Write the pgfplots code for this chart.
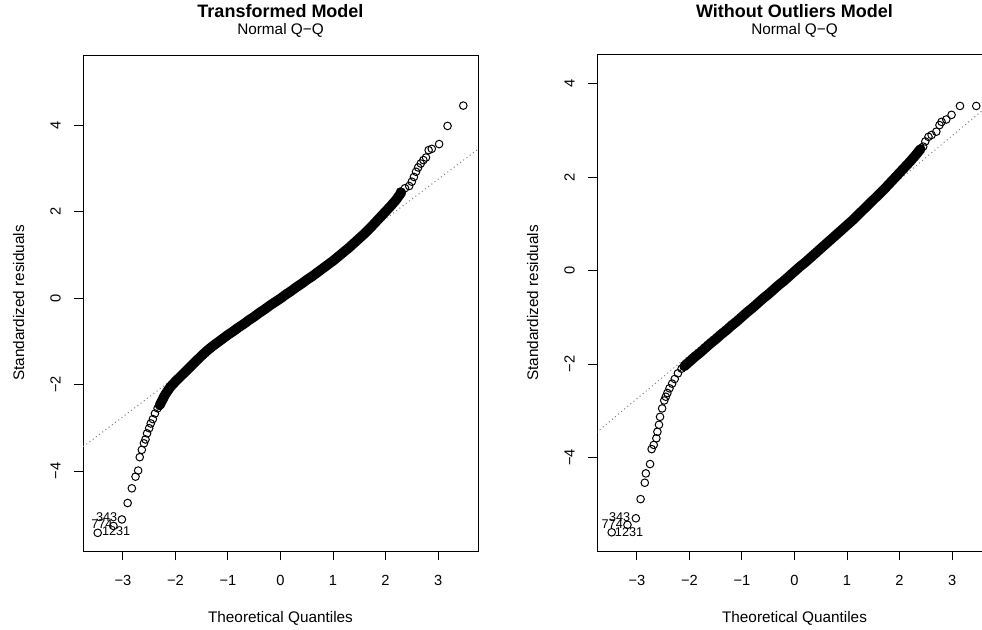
\documentclass[border=0pt]{standalone}
\usepackage{fontspec}
\setmainfont{Liberation Sans}
\usepackage{pgfplots}
\pgfplotsset{compat=1.18}

\newcommand\basefont{\fontsize{11.5pt}{13pt}\selectfont}
\newcommand\tickfont{\fontsize{11pt}{13pt}\selectfont}
\newcommand\titlefont{\fontsize{13.5pt}{16pt}\selectfont\bfseries}
\newcommand\idfont{\fontsize{9.5pt}{10pt}\selectfont}

\pgfplotsset{
  qqaxis/.style={
    scale only axis, anchor=south west,
    width=296.25pt, height=372pt,
    xmin=-3.76, xmax=3.76,
    axis line style={line width=0.75pt, black},
    tick align=outside, major tick length=7pt,
    tick style={line width=0.75pt, black},
    xtick={-3,-2,-1,0,1,2,3},
    xticklabels={−3,−2,−1,0,1,2,3},
    ytick={-4,-2,0,2,4},
    yticklabels={−4,−2,0,2,4},
    xtick pos=left, ytick pos=left,
    ticklabel style={font=\tickfont},
    xticklabel style={anchor=base, yshift=-18.5pt},
    yticklabel style={rotate=90, anchor=south, inner ysep=9.5pt},
    clip=true,
  },
  band/.style={black, line width=7.4pt, line cap=round, line join=round, no marks},
  pts/.style={only marks, mark=o, mark size=2.85pt, mark options={line width=0.75pt, black}},
  refline/.style={black!50, line width=0.75pt, dash pattern=on 0.75pt off 2.25pt, no marks},
}

\begin{document}
\begin{tikzpicture}[x=0.75pt, y=-0.75pt]

% ---------------- Transformed model ----------------
\begin{axis}[qqaxis, at={(62.25pt,-413.25pt)}, ymin=-5.85, ymax=5.62]
  \addplot[refline] coordinates {(-4,-3.66) (4,3.66)};
  % dense central part of the residuals
  \addplot[band] coordinates {
    (-2.30,-2.48) (-2.20,-2.24) (-2.10,-2.06) (-2.00,-1.93) (-1.90,-1.81)
    (-1.80,-1.69) (-1.70,-1.57) (-1.60,-1.45) (-1.50,-1.33) (-1.40,-1.22)
    (-1.30,-1.12) (-1.20,-1.03) (-1.10,-0.94) (-1.00,-0.85) (-0.90,-0.77)
    (-0.80,-0.68) (-0.70,-0.60) (-0.60,-0.51) (-0.50,-0.43) (-0.40,-0.34)
    (-0.30,-0.26) (-0.20,-0.17) (-0.10,-0.09) (0.00,-0.01) (0.10,0.08)
    (0.20,0.16) (0.30,0.25) (0.40,0.33) (0.50,0.42) (0.60,0.50)
    (0.70,0.59) (0.80,0.68) (0.90,0.77) (1.00,0.86) (1.10,0.96)
    (1.20,1.06) (1.30,1.16) (1.40,1.27) (1.50,1.38) (1.60,1.49)
    (1.70,1.61) (1.80,1.74) (1.90,1.87) (2.00,2.00) (2.10,2.13)
    (2.20,2.27) (2.30,2.44)
  };
  % tails
  \addplot[pts] coordinates {
    (-3.48,-5.43) (-3.18,-5.27) (-3.02,-5.12) (-2.91,-4.74) (-2.83,-4.40)
    (-2.76,-4.13) (-2.71,-3.99) (-2.68,-3.68) (-2.64,-3.51) (-2.60,-3.36)
    (-2.57,-3.27) (-2.54,-3.13) (-2.50,-3.01) (-2.47,-2.90) (-2.43,-2.80)
    (-2.39,-2.67) (-2.34,-2.55)
    (2.28,2.46) (2.37,2.54) (2.45,2.59) (2.50,2.69) (2.54,2.80)
    (2.58,2.92) (2.62,3.02) (2.67,3.11) (2.72,3.19) (2.77,3.25)
    (2.82,3.42) (2.88,3.45) (3.02,3.56) (3.18,3.98) (3.48,4.45)
  };
  \node[font=\idfont] at (axis cs:-3.31,-5.06) {343};
  \node[font=\idfont] at (axis cs:-3.40,-5.23) {774};
  \node[font=\idfont] at (axis cs:-3.13,-5.40) {1231};
\end{axis}

% ---------------- Without outliers model ----------------
\begin{axis}[qqaxis, at={(447.75pt,-413.25pt)}, ymin=-6.0, ymax=4.61]
  \addplot[refline] coordinates {(-4,-3.68) (4,3.82)};
  \addplot[band] coordinates {
    (-2.10,-2.05) (-2.00,-1.95) (-1.90,-1.85) (-1.80,-1.76) (-1.70,-1.66)
    (-1.60,-1.56) (-1.50,-1.47) (-1.40,-1.37) (-1.30,-1.28) (-1.20,-1.18)
    (-1.10,-1.09) (-1.00,-0.99) (-0.90,-0.89) (-0.80,-0.80) (-0.70,-0.70)
    (-0.60,-0.60) (-0.50,-0.51) (-0.40,-0.41) (-0.30,-0.31) (-0.20,-0.22)
    (-0.10,-0.12) (0.00,-0.02) (0.10,0.08) (0.20,0.17) (0.30,0.27)
    (0.40,0.37) (0.50,0.47) (0.60,0.57) (0.70,0.67) (0.80,0.77)
    (0.90,0.87) (1.00,0.97) (1.10,1.07) (1.20,1.18) (1.30,1.29)
    (1.40,1.40) (1.50,1.51) (1.60,1.62) (1.70,1.73) (1.80,1.85)
    (1.90,1.97) (2.00,2.09) (2.10,2.21) (2.20,2.33) (2.30,2.46)
    (2.40,2.60)
  };
  \addplot[pts] coordinates {
    (-3.48,-5.60) (-3.18,-5.44) (-3.02,-5.30) (-2.93,-4.89) (-2.85,-4.54)
    (-2.83,-4.34) (-2.75,-4.14) (-2.72,-3.82) (-2.68,-3.73) (-2.63,-3.59)
    (-2.61,-3.45) (-2.58,-3.30) (-2.56,-3.13) (-2.52,-2.95) (-2.48,-2.78)
    (-2.45,-2.70) (-2.42,-2.62) (-2.38,-2.52) (-2.33,-2.42) (-2.28,-2.32)
    (-2.22,-2.20) (-2.15,-2.10)
    (2.45,2.65) (2.49,2.76) (2.55,2.86) (2.61,2.90) (2.70,2.97)
    (2.76,3.11) (2.80,3.18) (2.89,3.23) (2.99,3.33) (3.15,3.52)
    (3.46,3.52)
  };
  \node[font=\idfont] at (axis cs:-3.33,-5.27) {343};
  \node[font=\idfont] at (axis cs:-3.47,-5.42) {774};
  \node[font=\idfont] at (axis cs:-3.15,-5.60) {1231};
\end{axis}

% titles and axis labels
\node[anchor=base, font=\titlefont] at (280.5,17) {Transformed Model};
\node[anchor=base, font=\basefont] at (280.5,34) {Normal Q−Q};
\node[anchor=base, font=\basefont] at (280.5,622) {Theoretical Quantiles};
\node[anchor=base, font=\basefont, rotate=90] at (24,303) {Standardized residuals};

\node[anchor=base, font=\titlefont] at (794.5,17) {Without Outliers Model};
\node[anchor=base, font=\basefont] at (794.5,34) {Normal Q−Q};
\node[anchor=base, font=\basefont] at (794.5,622) {Theoretical Quantiles};
\node[anchor=base, font=\basefont, rotate=90] at (538,303) {Standardized residuals};

\pgfresetboundingbox
\useasboundingbox (0,0) rectangle (982,629);
\end{tikzpicture}
\end{document}
